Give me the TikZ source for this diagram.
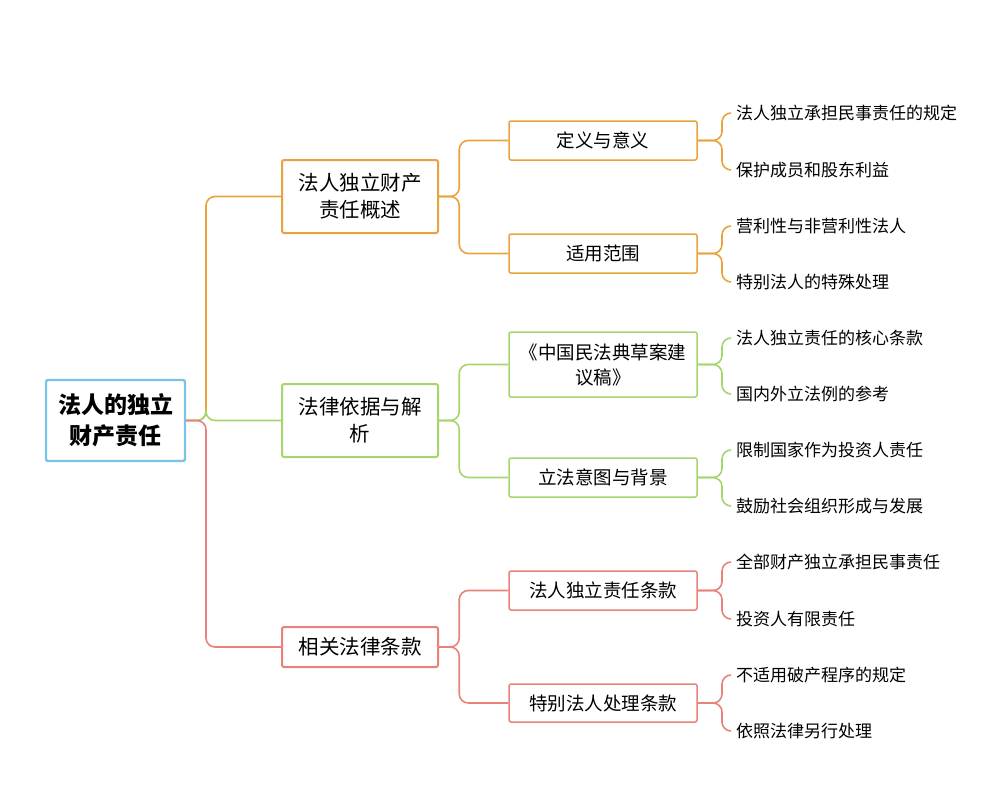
\documentclass[tikz,border=0pt]{standalone}
\usepackage{fontspec}
\newfontfamily\cjk{Noto Sans CJK SC}
\begin{document}
\begin{tikzpicture}[x=1pt,y=-1pt,
  box/.style={draw,line width=2pt,rounded corners=2pt,fill=white,align=center,font=\cjk\fontsize{20.5}{27}\selectfont,inner sep=0pt},
  sbox/.style={draw,line width=1.5pt,rounded corners=2pt,fill=white,align=center,font=\cjk\fontsize{18.5}{25}\selectfont,inner sep=0pt,minimum width=188pt},
  leaf/.style={anchor=west,font=\cjk\fontsize{17}{20}\selectfont,inner sep=2pt},
  edge/.style={line width=1.6pt,rounded corners=9pt}]
\useasboundingbox (0,0) rectangle (1000,800);
\definecolor{cb}{HTML}{7CC4E6}\definecolor{co}{HTML}{E8A33C}
\definecolor{cg}{HTML}{A5D66E}\definecolor{cr}{HTML}{E8827A}
\node[box,draw=cb,line width=2.4pt,minimum width=139pt,minimum height=81pt,font=\cjk\bfseries\fontsize{23}{31}\selectfont] (root) at (115.5,420.5) {法人的独立\\财产责任};
\node[box,draw=co,minimum width=156pt,minimum height=73pt] (a) at (360,196.5) {法人独立财产\\责任概述};
\node[box,draw=cg,minimum width=156pt,minimum height=73pt] (b) at (360,420.5) {法律依据与解\\析};
\node[box,draw=cr,minimum width=156pt,minimum height=40pt] (c) at (360,647) {相关法律条款};
\node[sbox,draw=co,minimum height=39pt] (a1) at (603,140.5) {定义与意义};
\node[sbox,draw=co,minimum height=39pt] (a2) at (603,253.5) {适用范围};
\node[sbox,draw=cg,minimum height=65pt] (b1) at (603,364.5) {《中国民法典草案建\\议稿》};
\node[sbox,draw=cg,minimum height=39pt] (b2) at (603,477.5) {立法意图与背景};
\node[sbox,draw=cr,minimum height=39pt] (c1) at (603,590.5) {法人独立责任条款};
\node[sbox,draw=cr,minimum height=38pt] (c2) at (603,703) {特别法人处理条款};
\foreach \n/\y/\t in {a1a/113/法人独立承担民事责任的规定,a1b/170/保护成员和股东利益,a2a/226/营利性与非营利性法人,a2b/282/特别法人的特殊处理,b1a/338/法人独立责任的核心条款,b1b/394/国内外立法例的参考,b2a/450/限制国家作为投资人责任,b2b/506/鼓励社会组织形成与发展,c1a/562/全部财产独立承担民事责任,c1b/619/投资人有限责任,c2a/675/不适用破产程序的规定,c2b/731/依照法律另行处理}
  \node[leaf] (\n) at (734,\y) {\t};
\foreach \p/\c/\col in {root/a/co,root/b/cg,root/c/cr}
  \draw[edge,\col] (\p.east) -| ([xshift=-75pt]\c.west) -- (\c.west);
\foreach \p/\c/\col in {a/a1/co,a/a2/co,b/b1/cg,b/b2/cg,c/c1/cr,c/c2/cr}
  \draw[edge,\col] (\p.east) -| ([xshift=-49pt]\c.west) -- (\c.west);
\foreach \p/\col in {a1/co,a2/co,b1/cg,b2/cg,c1/cr,c2/cr}{
  \draw[edge,\col] (\p.east) -| ([xshift=-12pt]\p a.west) -- ([xshift=-3pt]\p a.west);
  \draw[edge,\col] (\p.east) -| ([xshift=-12pt]\p b.west) -- ([xshift=-3pt]\p b.west);}
\end{tikzpicture}
\end{document}
